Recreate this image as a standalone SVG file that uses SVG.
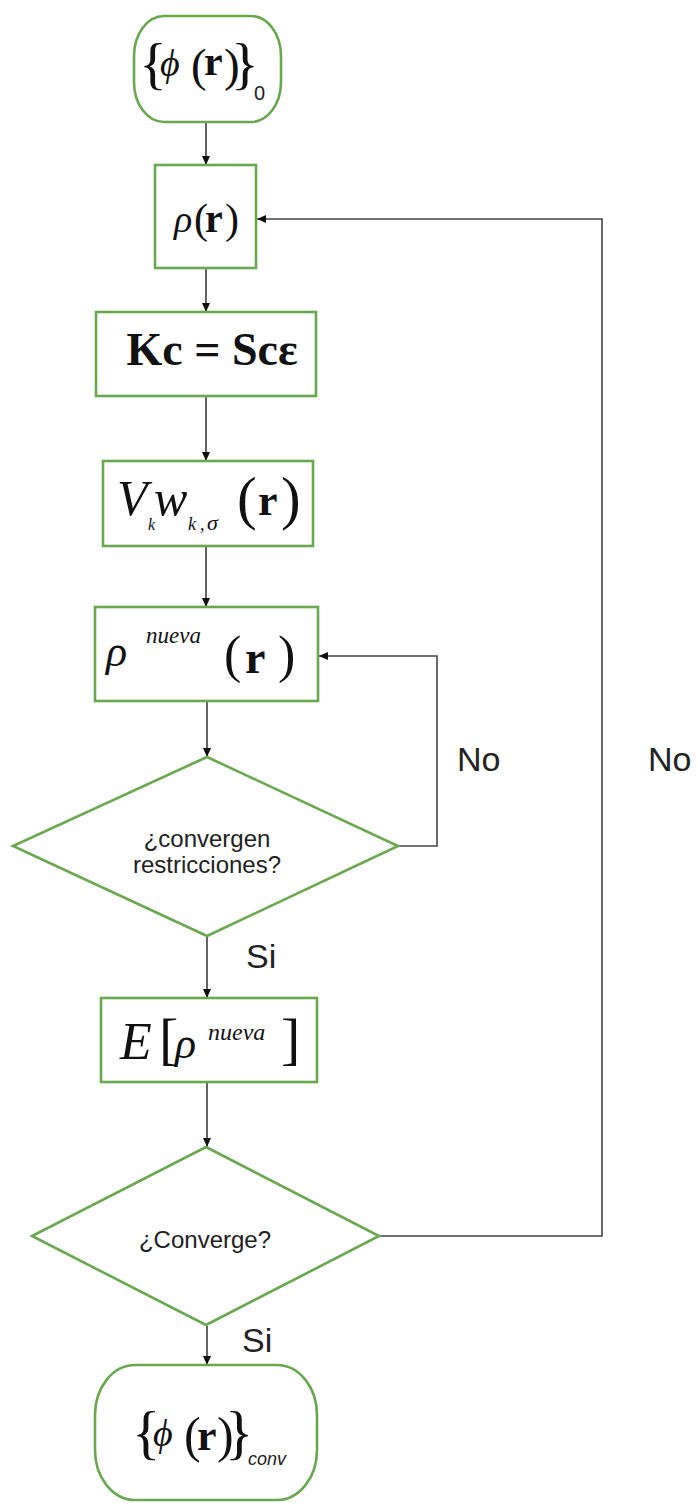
<svg xmlns="http://www.w3.org/2000/svg" width="698" height="1504" viewBox="0 0 698 1504">
<style>
.box{fill:#fff;stroke:#6aa84f;stroke-width:2.6}
.con{fill:none;stroke:#111;stroke-width:1.3}
.loop{fill:none;stroke:#444;stroke-width:1.6}
.m{font-family:"Liberation Serif","Times New Roman",serif;fill:#111}
.i{font-style:italic}
.b{font-weight:bold}
.s{font-family:"Liberation Sans",Arial,sans-serif;fill:#222}
</style>
<defs>
<marker id="ah" markerWidth="10" markerHeight="10" refX="9" refY="5" orient="auto" markerUnits="userSpaceOnUse">
<path d="M0,1 L9,5 L0,9 Z" fill="#111"/>
</marker>
</defs>
<rect width="698" height="1504" fill="#fff"/>

<g id="connectors">
<line class="con" x1="206" y1="122" x2="206" y2="165" marker-end="url(#ah)"/>
<line class="con" x1="206" y1="268" x2="206" y2="312" marker-end="url(#ah)"/>
<line class="con" x1="206" y1="396" x2="206" y2="461" marker-end="url(#ah)"/>
<line class="con" x1="206" y1="545" x2="206" y2="607" marker-end="url(#ah)"/>
<line class="con" x1="207" y1="701" x2="207" y2="757" marker-end="url(#ah)"/>
<line class="con" x1="207" y1="936" x2="207" y2="998" marker-end="url(#ah)"/>
<line class="con" x1="207" y1="1082" x2="207" y2="1147" marker-end="url(#ah)"/>
<line class="con" x1="207" y1="1326" x2="207" y2="1365" marker-end="url(#ah)"/>
<polyline class="loop" points="398,846 437,846 437,656 319,656" marker-end="url(#ah)"/>
<polyline class="loop" points="379,1236 602,1236 602,219 257,219" marker-end="url(#ah)"/>
<text class="s" x="457" y="771" font-size="34">No</text>
<text class="s" x="648" y="771" font-size="34">No</text>
<text class="s" x="246" y="968" font-size="34">Si</text>
<text class="s" x="242" y="1352" font-size="34">Si</text>
</g>

<g id="start">
<rect class="box" x="134" y="16" width="147" height="106" rx="30" ry="40"/>
<text class="m"><tspan font-size="58" x="139" y="83">{</tspan><tspan class="i" font-size="38" x="160" y="76">ϕ</tspan><tspan font-size="47" x="191" y="81">(</tspan><tspan class="b" font-size="42" x="204" y="75">r</tspan><tspan font-size="47" x="224" y="81">)</tspan><tspan font-size="58" x="231" y="83">}</tspan><tspan class="s" font-size="20" x="254" y="100">0</tspan></text>
</g>

<g id="rho">
<rect class="box" x="155" y="165" width="101" height="103"/>
<text class="m"><tspan class="i" font-size="38" x="174" y="232">ρ</tspan><tspan font-size="42" x="194" y="233">(</tspan><tspan class="b" font-size="40" x="205" y="232">r</tspan><tspan font-size="42" x="225" y="233">)</tspan></text>
</g>

<g id="kc">
<rect class="box" x="96" y="312" width="220" height="84"/>
<text class="m b" font-size="46" x="212" y="365" text-anchor="middle">Kc = Scε</text>
</g>

<g id="vk">
<rect class="box" x="103" y="461" width="210" height="85"/>
<text class="m i"><tspan font-size="50" x="117" y="515">V</tspan><tspan font-size="16" x="148" y="530">k</tspan><tspan font-size="50" x="154" y="515">w</tspan><tspan font-size="18" x="188" y="530">k</tspan><tspan font-size="18" x="200" y="530">,</tspan><tspan font-size="22" x="207" y="530">σ</tspan><tspan font-style="normal" font-size="59" x="237" y="518">(</tspan><tspan font-style="normal" font-weight="bold" font-size="44" x="258" y="515">r</tspan><tspan font-style="normal" font-size="59" x="281" y="518">)</tspan></text>
</g>

<g id="rhonueva">
<rect class="box" x="95" y="607" width="223" height="94"/>
<text class="m"><tspan class="i" font-size="44" x="106" y="666">ρ</tspan><tspan class="i" font-size="23" x="146" y="643">nueva</tspan><tspan font-size="52" x="224" y="672">(</tspan><tspan class="b" font-size="46" x="245" y="673">r</tspan><tspan font-size="52" x="278" y="672">)</tspan></text>
</g>

<g id="decision1">
<polygon class="box" points="207,757 398,846 207,936 13,846"/>
<text class="s" font-size="24" x="207" y="847" text-anchor="middle">¿convergen</text>
<text class="s" font-size="24" x="207" y="873" text-anchor="middle">restricciones?</text>
</g>

<g id="energy">
<rect class="box" x="101" y="998" width="216" height="84"/>
<text class="m"><tspan class="i" font-size="52" x="120" y="1059">E</tspan><tspan font-size="58" x="159" y="1058">[</tspan><tspan class="i" font-size="44" x="175" y="1058">ρ</tspan><tspan class="i" font-size="24" x="208" y="1040">nueva</tspan><tspan font-size="58" x="281" y="1058">]</tspan></text>
</g>

<g id="decision2">
<polygon class="box" points="206,1147 379,1236 206,1325 32,1236"/>
<text class="s" font-size="24" x="205" y="1248" text-anchor="middle">¿Converge?</text>
</g>

<g id="end">
<rect class="box" x="95" y="1365" width="222" height="135" rx="40" ry="50"/>
<text class="m"><tspan font-size="59" x="132" y="1452">{</tspan><tspan class="i" font-size="38" x="153" y="1446">ϕ</tspan><tspan font-size="50" x="184" y="1452">(</tspan><tspan class="b" font-size="44" x="197" y="1450">r</tspan><tspan font-size="50" x="217" y="1452">)</tspan><tspan font-size="59" x="225" y="1452">}</tspan><tspan class="s i" font-size="18" x="248" y="1465">conv</tspan></text>
</g>
</svg>
